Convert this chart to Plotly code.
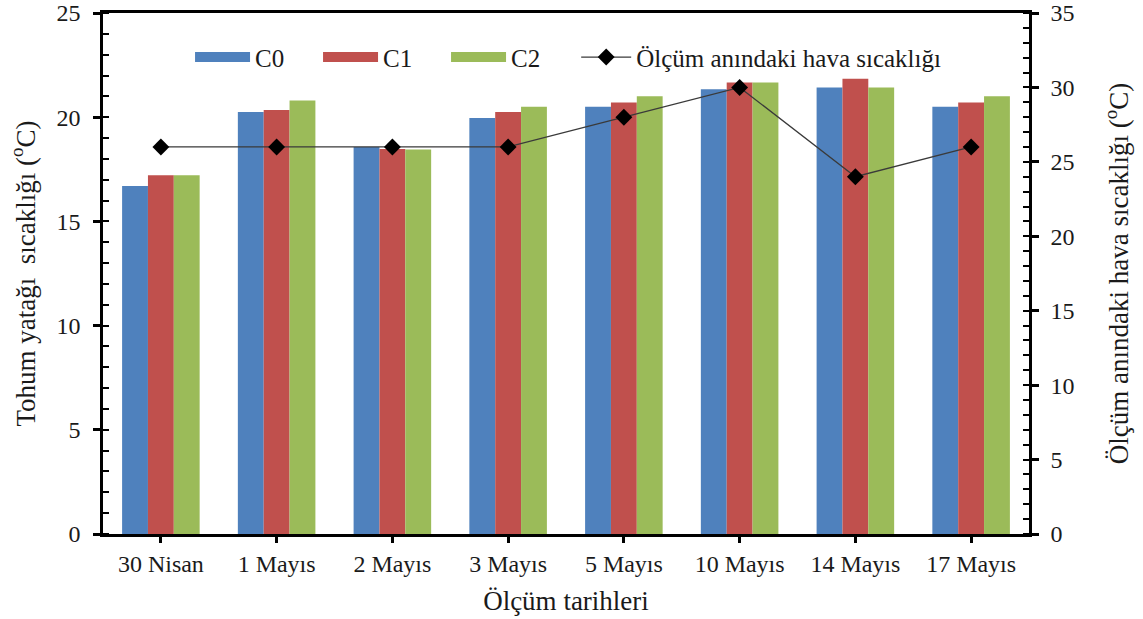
import plotly.graph_objects as go

categories = ["30 Nisan", "1 Mayıs", "2 Mayıs", "3 Mayıs", "5 Mayıs", "10 Mayıs", "14 Mayıs", "17 Mayıs"]
c0 = [16.7, 20.25, 18.57, 19.96, 20.5, 21.34, 21.43, 20.5]
c1 = [17.22, 20.35, 18.47, 20.25, 20.7, 21.67, 21.85, 20.7]
c2 = [17.22, 20.8, 18.45, 20.5, 21.0, 21.67, 21.43, 21.0]
air_temp = [26, 26, 26, 26, 28, 30, 24, 26]

colors = {"C0": "#4F81BD", "C1": "#C0504D", "C2": "#9BBB59"}
FONT = "Liberation Serif"
TXT = "#1a1a1a"

fig = go.Figure()
for name, vals in [("C0", c0), ("C1", c1), ("C2", c2)]:
    fig.add_trace(go.Bar(x=categories, y=vals, name=name, marker_color=colors[name],
                         marker_line_width=0, showlegend=False, yaxis="y"))
    # legend proxy (wide swatch)
    fig.add_trace(go.Scatter(x=[None], y=[None], mode="lines", name=name,
                             line=dict(color=colors[name], width=14), yaxis="y",
                             legend="legend"))

fig.add_trace(go.Scatter(x=categories, y=air_temp, mode="lines+markers",
                         name="Ölçüm anındaki hava sıcaklığı",
                         line=dict(color="#3a3a3a", width=1.3),
                         marker=dict(symbol="diamond", size=13, color="black"),
                         yaxis="y2", legend="legend2"))

tickfont = dict(family=FONT, size=24, color=TXT)
titlefont = dict(family=FONT, size=27, color=TXT)
legfont = dict(family=FONT, size=25, color=TXT)
fig.update_layout(
    width=1143, height=619,
    margin=dict(l=103, r=114, t=13, b=85, autoexpand=False),
    plot_bgcolor="white", paper_bgcolor="white",
    barmode="group", bargap=0.33, bargroupgap=0,
    font=dict(family=FONT, color=TXT),
    xaxis=dict(showline=True, linecolor="black", linewidth=2.5, mirror=True,
               ticks="outside", ticklen=6, tickwidth=2.5, tickcolor="black",
               tickfont=tickfont, automargin=False,
               title=dict(text="Ölçüm tarihleri", font=titlefont, standoff=16)),
    yaxis=dict(range=[0, 25], dtick=5, showline=True, linecolor="black", linewidth=2.5,
               showgrid=False, zeroline=False, automargin=False,
               ticks="outside", ticklen=7, tickwidth=2.5, tickcolor="black",
               ticklabelstandoff=8,
               minor=dict(dtick=1, ticks="inside", ticklen=6, tickwidth=2, tickcolor="black"),
               tickfont=tickfont,
               title=dict(text="Tohum yatağı  sıcaklığı (<sup>o</sup>C)", font=titlefont, standoff=14)),
    yaxis2=dict(range=[0, 35], dtick=5, overlaying="y", side="right", showline=True,
                linecolor="black", linewidth=2.5, showgrid=False, zeroline=False, automargin=False,
                ticks="outside", ticklen=7, tickwidth=2.5, tickcolor="black",
                ticklabelstandoff=7,
                minor=dict(dtick=1, ticks="inside", ticklen=6, tickwidth=2, tickcolor="black"),
                tickfont=tickfont,
                title=dict(text="Ölçüm anındaki hava sıcaklığı (<sup>o</sup>C)", font=titlefont, standoff=36)),
    legend=dict(orientation="h", x=0.094, y=0.915, xanchor="left", yanchor="middle",
                bgcolor="rgba(0,0,0,0)", font=legfont,
                itemwidth=55, entrywidth=58, entrywidthmode="pixels",
                tracegroupgap=0, traceorder="normal"),
    legend2=dict(orientation="h", x=0.511, y=0.915, xanchor="left", yanchor="middle",
                 bgcolor="rgba(0,0,0,0)", font=legfont, itemwidth=50),
)

fig.write_html("out.html")
